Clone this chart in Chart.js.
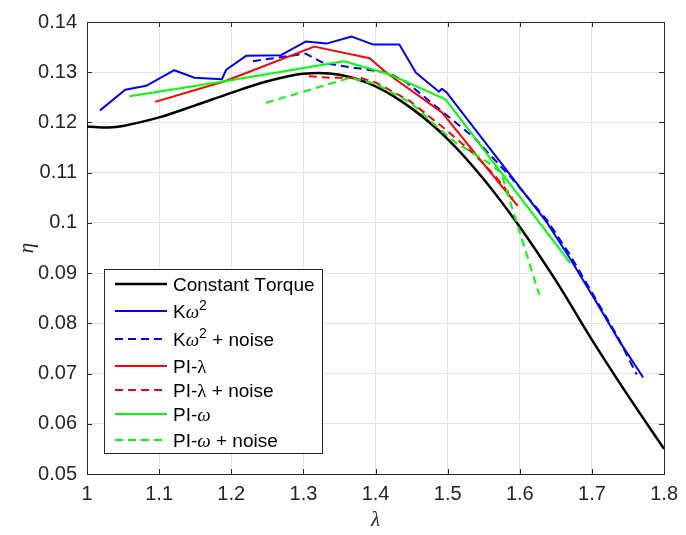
<!DOCTYPE html>
<html><head><meta charset="utf-8">
<script src="https://cdn.jsdelivr.net/npm/chart.js@4/dist/chart.umd.min.js"></script>
<style>html,body{margin:0;padding:0;background:#fff}#wrap{width:686px;height:535px}</style>
</head><body><div id="wrap"><canvas id="c" width="686" height="535"></canvas></div>
<script>
// ---- tick labels ----
const xTickLabels = ['1','1.1','1.2','1.3','1.4','1.5','1.6','1.7','1.8'];
const yTickLabels = ['0.05','0.06','0.07','0.08','0.09','0.1','0.11','0.12','0.13','0.14'];
const xTitle = 'λ';
const yTitle = 'η';
const seriesNames = ['Constant Torque','Kω^2','Kω^2 + noise','PI-λ','PI-λ + noise','PI-ω','PI-ω + noise'];

// ---- series values (lambda, eta) ----
const constTorqueX = [1.00,1.03,1.05,1.10,1.15,1.20,1.25,1.30,1.35,1.40,1.45,1.50,1.55,1.60,1.65,1.70,1.75,1.80];
const constTorqueY = [0.1192,0.1190,0.1193,0.1210,0.1234,0.1259,0.1282,0.1297,0.1295,0.1272,0.1228,0.1167,0.1087,0.0992,0.0885,0.0767,0.0656,0.0550];

const kw2X = [1.018,1.053,1.082,1.121,1.149,1.187,1.193,1.221,1.269,1.303,1.332,1.367,1.397,1.433,1.456,1.488,1.492,1.499,1.638,1.670,1.705,1.739,1.771];
const kw2Y = [0.1224,0.1265,0.1273,0.1304,0.1289,0.1286,0.1305,0.1333,0.1334,0.1361,0.1357,0.1371,0.1355,0.1355,0.1299,0.1261,0.1267,0.1259,0.1000,0.0928,0.0845,0.0762,0.0692];

const kw2NoiseX = [1.230,1.303,1.328,1.417,1.442,1.499,1.538,1.588,1.638,1.670,1.735,1.762];
const kw2NoiseY = [0.1322,0.1337,0.1318,0.1299,0.1281,0.1214,0.1168,0.1090,0.1005,0.0935,0.0775,0.0698];

const piLambdaX = [1.0945,1.191,1.315,1.392,1.415,1.492,1.597];
const piLambdaY = [0.1241,0.1282,0.1351,0.1328,0.1299,0.1220,0.1034];

const piLambdaNoiseX = [1.3075,1.337,1.378,1.401,1.447,1.499,1.538,1.565,1.590];
const piLambdaNoiseY = [0.1292,0.1289,0.1289,0.1279,0.1243,0.1184,0.1135,0.1095,0.1050];

const piOmegaX = [1.059,1.191,1.356,1.419,1.497,1.670];
const piOmegaY = [0.1252,0.1282,0.1322,0.1296,0.1246,0.0920];

const piOmegaNoiseX = [1.248,1.365,1.400,1.450,1.483,1.515,1.524,1.556,1.574,1.627];
const piOmegaNoiseY = [0.1239,0.1289,0.1277,0.1238,0.1194,0.1155,0.1149,0.1120,0.1100,0.0857];

function pts(xs, ys){ return xs.map((x,i)=>({x:x, y:ys[i]})); }

const styles = [
  {c:'#000000', w:2.5, d:[], t:0.35},
  {c:'#0000ff', w:2, d:[], t:0},
  {c:'#0000ff', w:2, d:[8,5], t:0},
  {c:'#ff0000', w:2, d:[], t:0},
  {c:'#ff0000', w:2, d:[8,5], t:0},
  {c:'#00ff00', w:2, d:[], t:0},
  {c:'#00ff00', w:2, d:[8,5], t:0}
];
const seriesData = [
  pts(constTorqueX, constTorqueY), pts(kw2X, kw2Y), pts(kw2NoiseX, kw2NoiseY),
  pts(piLambdaX, piLambdaY), pts(piLambdaNoiseX, piLambdaNoiseY),
  pts(piOmegaX, piOmegaY), pts(piOmegaNoiseX, piOmegaNoiseY)
];

const datasets = seriesData.map((d,i)=>({
  label: seriesNames[i], data: d, showLine: true, pointRadius: 0, pointHoverRadius: 0,
  borderColor: styles[i].c, backgroundColor: styles[i].c, borderWidth: styles[i].w,
  borderDash: styles[i].d, tension: styles[i].t, fill: false, order: -i,
  borderJoinStyle: 'round'
}));

const AX = '#262626';
const boxPlugin = {
  id: 'boxTicks',
  beforeDatasetsDraw(chart){
    const {ctx, chartArea:a, scales} = chart;
    ctx.save();
    ctx.strokeStyle = AX; ctx.lineWidth = 1;
    const tl = 5;
    ctx.beginPath();
    scales.x.ticks.forEach(t=>{
      const px = Math.round(scales.x.getPixelForValue(t.value)) + 0.5;
      ctx.moveTo(px, a.bottom); ctx.lineTo(px, a.bottom - tl);
      ctx.moveTo(px, a.top); ctx.lineTo(px, a.top + tl);
    });
    scales.y.ticks.forEach(t=>{
      const py = Math.round(scales.y.getPixelForValue(t.value)) + 0.5;
      ctx.moveTo(a.left, py); ctx.lineTo(a.left + tl, py);
      ctx.moveTo(a.right, py); ctx.lineTo(a.right - tl, py);
    });
    ctx.stroke();
    ctx.strokeRect(Math.round(a.left)+0.5, Math.round(a.top)+0.5, Math.round(a.right-a.left), Math.round(a.bottom-a.top));
    ctx.restore();
  }
};

function drawRich(ctx, text, x, y){
  const base = '19px "Liberation Sans", Arial, sans-serif';
  const sup = '14px "Liberation Sans", Arial, sans-serif';
  const greekW = 'italic 19px "Liberation Serif", "Times New Roman", serif';
  const greekL = '19px "Liberation Serif", "Times New Roman", serif';
  ctx.textBaseline = 'alphabetic'; ctx.textAlign = 'left'; ctx.fillStyle = '#000';
  let cx = x;
  for (let k = 0; k < text.length; k++){
    let ch = text[k]; let f = base; let dy = 0;
    if (ch === '^'){ k++; ch = text[k]; f = sup; dy = -8; }
    else if (ch === 'ω'){ f = greekW; }
    else if (ch === 'λ'){ f = greekL; }
    ctx.font = f;
    ctx.fillText(ch, cx, y + 7 + dy);
    cx += ctx.measureText(ch).width;
  }
}

const legendPlugin = {
  id: 'legendBox',
  afterDraw(chart){
    const ctx = chart.ctx;
    ctx.save();
    const L = 104, T = 269, R = 322, B = 453;
    ctx.fillStyle = '#fff'; ctx.fillRect(L, T, R-L, B-T);
    ctx.strokeStyle = AX; ctx.lineWidth = 1; ctx.strokeRect(L+0.5, T+0.5, R-L, B-T);
    const rowY = [284, 311, 339, 366, 390, 414, 440];
    chart.data.datasets.forEach((ds,i)=>{
      const y = rowY[i];
      ctx.strokeStyle = ds.borderColor; ctx.lineWidth = ds.borderWidth;
      ctx.setLineDash(ds.borderDash || []);
      ctx.beginPath(); ctx.moveTo(115, y); ctx.lineTo(167, y); ctx.stroke();
      ctx.setLineDash([]);
      drawRich(ctx, seriesNames[i], 173, y);
    });
    ctx.restore();
  }
};

function labelFor(list, v){
  const f = list.find(l => Math.abs(parseFloat(l) - v) < 1e-6);
  return f === undefined ? '' : f;
}

new Chart(document.getElementById('c'), {
  type: 'scatter',
  data: { datasets },
  options: {
    responsive: false, animation: false, devicePixelRatio: 1,
    layout: { padding: { top: 15, right: 15, left: 0, bottom: 0 } },
    plugins: { legend: { display: false }, tooltip: { enabled: false } },
    scales: {
      x: {
        type: 'linear', min: 1, max: 1.8,
        ticks: { stepSize: 0.1, padding: 8, color: '#262626', maxRotation: 0,
          font: { family: '"Liberation Sans", Arial, sans-serif', size: 20 },
          callback: (v) => labelFor(xTickLabels, v) },
        grid: { color: '#e4e4e4', lineWidth: 1, drawTicks: false },
        border: { display: false },
        title: { display: true, text: xTitle, color: '#262626', padding: { top: 0, bottom: 2 },
          font: { family: '"Liberation Serif", "Times New Roman", serif', style: 'italic', size: 21 } },
        afterFit: (s) => { s.height = 61; }
      },
      y: {
        type: 'linear', min: 0.05, max: 0.14,
        ticks: { stepSize: 0.01, padding: 10, color: '#262626',
          font: { family: '"Liberation Sans", Arial, sans-serif', size: 20 },
          callback: (v) => labelFor(yTickLabels, v) },
        grid: { color: '#e4e4e4', lineWidth: 1, drawTicks: false },
        border: { display: false },
        title: { display: true, text: yTitle, color: '#262626', padding: { top: 15, bottom: 0 },
          font: { family: '"Liberation Serif", "Times New Roman", serif', style: 'italic', size: 21 } },
        afterFit: (s) => { s.width = 87; }
      }
    }
  },
  plugins: [boxPlugin, legendPlugin]
});
</script>
</body></html>
